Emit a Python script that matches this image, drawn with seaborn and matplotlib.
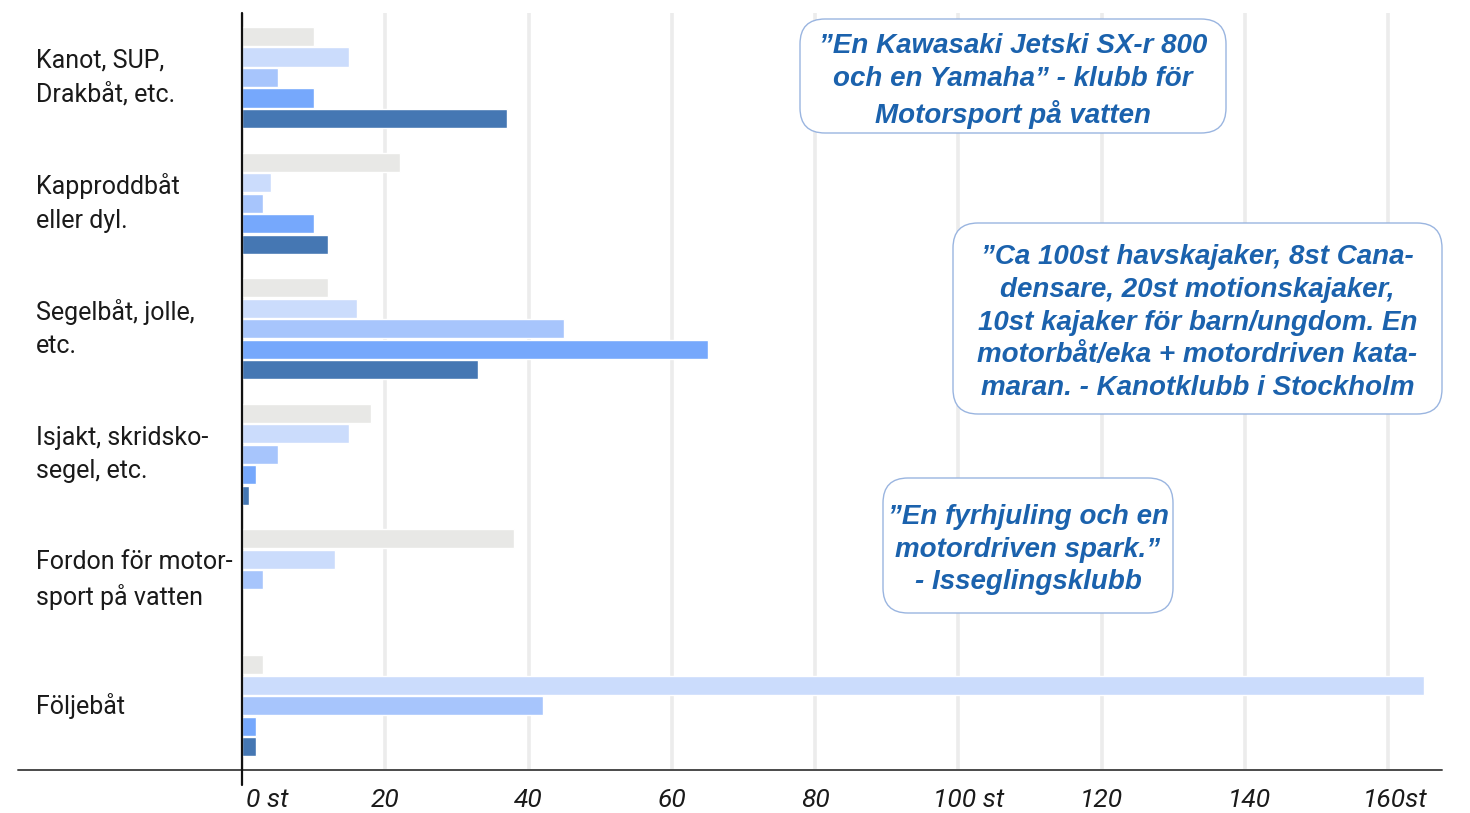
import matplotlib
matplotlib.use("Agg")
import matplotlib.pyplot as plt
import matplotlib.transforms as mtransforms
from matplotlib.patches import FancyBboxPatch
from matplotlib.lines import Line2D
import pandas as pd
import seaborn as sns

# --- data -------------------------------------------------------------
categories = [
    "Kanot, SUP,\nDrakbåt, etc.",
    "Kapproddbåt\neller dyl.",
    "Segelbåt, jolle,\netc.",
    "Isjakt, skridsko-\nsegel, etc.",
    "Fordon för motor-\nsport på vatten",
    "Följebåt",
]
series = ["s1", "s2", "s3", "s4", "s5"]
values_s1 = [10, 22, 12, 18, 38, 3]
values_s2 = [15, 4, 16, 15, 13, 165]
values_s3 = [5, 3, 45, 5, 3, 42]
values_s4 = [10, 10, 65, 2, 0, 2]
values_s5 = [37, 12, 33, 1, 0, 2]
series_colors = ["#e8e8e6", "#cbdcfc", "#a7c5fc", "#76a8fc", "#4577b3"]

tick_values = [0, 20, 40, 60, 80, 100, 120, 140, 160]
tick_labels = ["0 st", "20", "40", "60", "80", "100 st", "120", "140", "160st"]

quotes = [
    "”En Kawasaki Jetski SX-r 800\noch en Yamaha” - klubb för\nMotorsport på vatten",
    "”Ca 100st havskajaker, 8st Cana-\ndensare, 20st motionskajaker,\n10st kajaker för barn/ungdom. En\nmotorbåt/eka + motordriven kata-\nmaran. - Kanotklubb i Stockholm",
    "”En fyrhjuling och en\nmotordriven spark.”\n- Isseglingsklubb",
]

rows = []
for s, vals in zip(series, [values_s1, values_s2, values_s3, values_s4, values_s5]):
    for c, v in zip(categories, vals):
        rows.append({"category": c, "series": s, "value": v})
df = pd.DataFrame(rows)

# --- figure -----------------------------------------------------------
sns.set_theme(style="white")
plt.rcParams["font.family"] = ["Roboto", "DejaVu Sans"]

W, H = 1470, 813
fig = plt.figure(figsize=(W / 100, H / 100), dpi=100)
ax_left, ax_right, ax_top, ax_bottom = 242, 1442, 12.7, 770
ax = fig.add_axes([ax_left / W, 1 - ax_bottom / H,
                   (ax_right - ax_left) / W, (ax_bottom - ax_top) / H])

sns.barplot(data=df, y="category", x="value", hue="series", order=categories,
            hue_order=series, palette=series_colors, orient="h", width=0.816,
            gap=0.07, saturation=1, legend=False, ax=ax, zorder=3)

ax.set_xlim(0, 167.5)
ax.set_ylim(5.513, -0.516)
ax.set_xlabel("")
ax.set_ylabel("")
for sp in ax.spines.values():
    sp.set_visible(False)

ax.set_axisbelow(True)
ax.xaxis.grid(True, color="#ececec", linewidth=2.6)
ax.yaxis.grid(False)

# x tick labels (italic)
ax.set_xticks(tick_values)
ax.set_xticklabels(tick_labels, fontsize=19, fontstyle="italic", color="#1a1a1a")
ax.tick_params(axis="x", length=0, pad=13)
shifts = {"0 st": 25, "100 st": 10, "140": 4, "160st": 7}
for lbl in ax.get_xticklabels():
    dx = shifts.get(lbl.get_text(), 0)
    if dx:
        lbl.set_transform(lbl.get_transform() +
                          mtransforms.ScaledTranslation(dx / 100, 0, fig.dpi_scale_trans))

# category labels on the left
ax.set_yticks(range(len(categories)))
ax.set_yticklabels([])
ax.tick_params(axis="y", length=0)
label_tr = mtransforms.blended_transform_factory(fig.transFigure, ax.transData)
for i, c in enumerate(categories):
    ax.text(36 / W, i, c, transform=label_tr, ha="left", va="center",
            fontsize=18, color="#1a1a1a", linespacing=1.5)

# axis lines
fig.add_artist(Line2D([18 / W, ax_right / W], [1 - ax_bottom / H] * 2,
                      transform=fig.transFigure, color="#4a4a4a", linewidth=1.4))
fig.add_artist(Line2D([ax_left / W] * 2, [1 - ax_top / H, 1 - 785 / H],
                      transform=fig.transFigure, color="#111111", linewidth=1.6))

# quote boxes (inches from lower-left) and the vertical nudge of their text
boxes = [
    (8.00, 6.80, 4.26, 1.14),
    (9.53, 3.99, 4.89, 1.91),
    (8.83, 2.00, 2.90, 1.35),
]
text_nudge = [-0.05, -0.04, -0.04]
for (x0, y0, w, h), dy, q in zip(boxes, text_nudge, quotes):
    patch = FancyBboxPatch((x0, y0), w, h,
                           boxstyle="round,pad=0,rounding_size=0.25",
                           transform=fig.dpi_scale_trans, facecolor="white",
                           edgecolor="#9ab5e0", linewidth=1.0, zorder=5)
    fig.add_artist(patch)
    fig.text((x0 + w / 2) / (W / 100), (y0 + h / 2 + dy) / (H / 100), q,
             ha="center", va="center", multialignment="center",
             fontsize=20, fontweight="bold", fontstyle="italic",
             family=["Liberation Sans", "DejaVu Sans"], color="#1b62ad",
             linespacing=1.33, zorder=6)

fig.savefig("out.png", dpi=100, facecolor="white")
